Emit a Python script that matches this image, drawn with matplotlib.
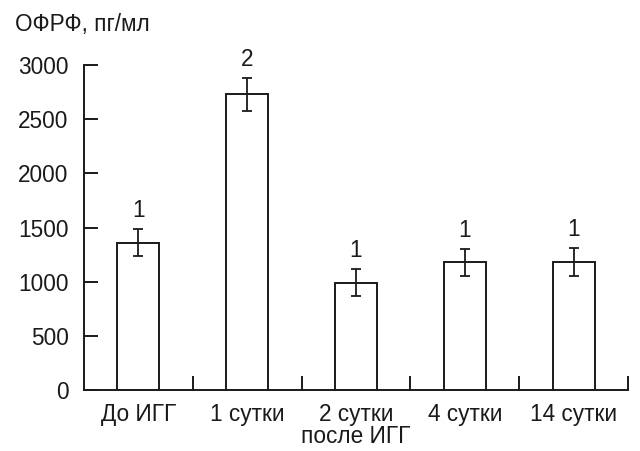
import matplotlib
matplotlib.use("Agg")
import matplotlib.pyplot as plt
import numpy as np

categories = ["До ИГГ", "1 сутки", "2 сутки\nпосле ИГГ", "4 сутки", "14 сутки"]
values = [1360, 2730, 990, 1180, 1185]
errors = [125, 150, 125, 125, 130]
marks = ["1", "2", "1", "1", "1"]
yticks = [0, 500, 1000, 1500, 2000, 2500, 3000]

plt.rcParams['font.family'] = ['Liberation Sans', 'DejaVu Sans']
col = '#1a1a1a'
fs = 16.3

fig = plt.figure(figsize=(6.4, 4.51), dpi=100)
ax = fig.add_axes([84/640, 61/451, 544/640, 325/451])
x = np.arange(len(categories))
ax.bar(x, values, width=0.385, color='white', edgecolor=col, linewidth=1.4, zorder=2)
ax.errorbar(x, values, yerr=errors, fmt='none', ecolor=col, elinewidth=1.3,
            capsize=3.5, capthick=1.3, zorder=3)
for xi, v, e, m in zip(x, values, errors, marks):
    ax.annotate(m, (xi, v + e), xytext=(0, 5), textcoords='offset points',
                ha='center', va='bottom', fontsize=fs, color=col)

ax.set_xlim(-0.5, 4.5)
ax.set_ylim(0, 3000)
ax.set_yticks(yticks)
ax.set_yticklabels([str(t) for t in yticks])
ax.set_xticks(x)
ax.set_xticklabels(categories, linespacing=0.95)
ax.set_xticks(np.arange(0.5, 5.0, 1.0), minor=True)
ax.tick_params(axis='x', which='major', length=0, pad=9, labelsize=fs, colors=col)
ax.tick_params(axis='x', which='minor', direction='in', length=10, width=1.4, color=col)
ax.tick_params(axis='y', direction='in', length=10, width=1.4, pad=11, labelsize=fs, colors=col)
for s in ['top', 'right']:
    ax.spines[s].set_visible(False)
for s in ['left', 'bottom']:
    ax.spines[s].set_linewidth(1.4)
    ax.spines[s].set_color(col)
ax.spines['bottom'].set_bounds(-0.5, 4.5)

fig.text(15/640, 1 - 25/451, "ОФРФ, пг/мл", fontsize=fs, color=col, va='center', ha='left')

fig.savefig("out.png", dpi=100, facecolor='white')
